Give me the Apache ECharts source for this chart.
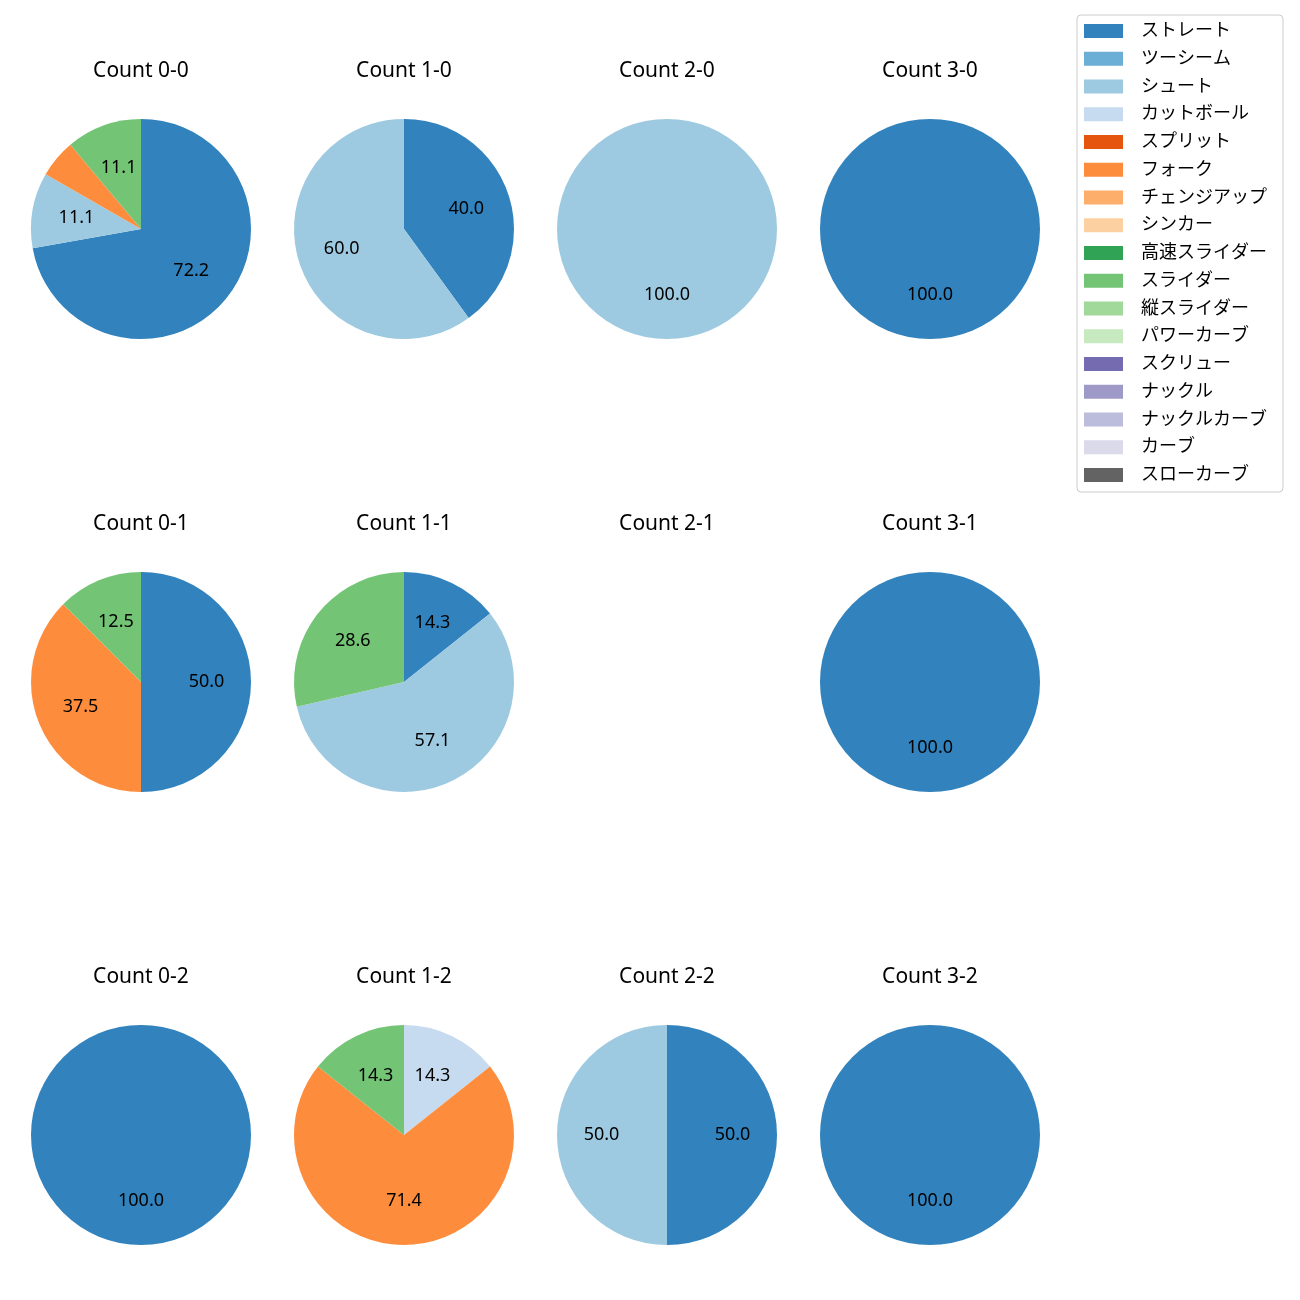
<!DOCTYPE html>
<html>
<head>
<meta charset="utf-8">
<script src="https://cdn.jsdelivr.net/npm/echarts@6/dist/echarts.min.js"></script>
<style>html,body{margin:0;padding:0;background:#fff}#c{width:1300px;height:1300px}</style>
</head>
<body>
<div id="c"></div>
<script>
const categories = ['ストレート','ツーシーム','シュート','カットボール','スプリット','フォーク','チェンジアップ','シンカー','高速スライダー','スライダー','縦スライダー','パワーカーブ','スクリュー','ナックル','ナックルカーブ','カーブ','スローカーブ'];
const colors = ['#3182bd','#6baed6','#9ecae1','#c6dbef','#e6550d','#fd8d3c','#fdae6b','#fdd0a2','#31a354','#74c476','#a1d99b','#c7e9c0','#756bb1','#9e9ac8','#bcbddc','#dadaeb','#636363'];

const count_0_0 = [['ストレート',72.2],['シュート',11.1],['フォーク',5.6],['スライダー',11.1]];
const count_1_0 = [['ストレート',40.0],['シュート',60.0]];
const count_2_0 = [['シュート',100.0]];
const count_3_0 = [['ストレート',100.0]];
const count_0_1 = [['ストレート',50.0],['フォーク',37.5],['スライダー',12.5]];
const count_1_1 = [['ストレート',14.3],['シュート',57.1],['スライダー',28.6]];
const count_2_1 = [];
const count_3_1 = [['ストレート',100.0]];
const count_0_2 = [['ストレート',100.0]];
const count_1_2 = [['カットボール',14.3],['フォーク',71.4],['スライダー',14.3]];
const count_2_2 = [['ストレート',50.0],['シュート',50.0]];
const count_3_2 = [['ストレート',100.0]];

const pies = [
  ['Count 0-0', count_0_0, 0, 0], ['Count 1-0', count_1_0, 1, 0], ['Count 2-0', count_2_0, 2, 0], ['Count 3-0', count_3_0, 3, 0],
  ['Count 0-1', count_0_1, 0, 1], ['Count 1-1', count_1_1, 1, 1], ['Count 2-1', count_2_1, 2, 1], ['Count 3-1', count_3_1, 3, 1],
  ['Count 0-2', count_0_2, 0, 2], ['Count 1-2', count_1_2, 1, 2], ['Count 2-2', count_2_2, 2, 2], ['Count 3-2', count_3_2, 3, 2]
];

const colX = [141, 404, 667, 930];
const rowY = [229, 682, 1135];
const R = 110;
const FONT = '"Noto Sans", "Noto Sans CJK JP", sans-serif';
const colorOf = n => colors[categories.indexOf(n)];

const series = [];
// legend provider series (invisible)
series.push({
  type: 'pie', radius: 0, center: [-100, -100], silent: true, showEmptyCircle: false,
  label: {show: false}, labelLine: {show: false},
  data: categories.map((n, i) => ({name: n, value: 0, itemStyle: {color: colors[i]}}))
});
const titles = [];
pies.forEach(([title, data, c, r]) => {
  titles.push({
    text: title, left: colX[c], top: rowY[r] - 168, textAlign: 'center', padding: 0,
    textStyle: {fontFamily: FONT, fontSize: 21, fontWeight: 'normal', color: '#000'}
  });
  if (!data.length) return;
  const d = data.map(([n, v]) => ({name: n, value: v, itemStyle: {color: colorOf(n)}}));
  series.push({
    type: 'pie', center: [colX[c], rowY[r]], radius: R, startAngle: 90, clockwise: true,
    label: {show: false}, labelLine: {show: false}, emphasis: {disabled: true},
    itemStyle: {borderWidth: 0}, data: d
  });
  series.push({
    type: 'pie', center: [colX[c], rowY[r]], radius: [15, R], startAngle: 90, clockwise: true,
    silent: true, legendHoverLink: false, emphasis: {disabled: true},
    itemStyle: {color: 'rgba(0,0,0,0)', borderWidth: 0},
    label: {show: true, position: 'inside', color: '#000', fontFamily: FONT, fontSize: 18,
      formatter: p => p.value >= 10 ? p.value.toFixed(1) : ''},
    labelLine: {show: false},
    data: data.map(([n, v]) => ({name: n, value: v}))
  });
});

const chart = echarts.init(document.getElementById('c'));
chart.setOption({
  animation: false,
  title: titles,
  legend: {
    orient: 'vertical', left: 1077, top: 15, data: categories,
    itemWidth: 39, itemHeight: 14, itemGap: 9.75, icon: 'rect',
    padding: [7, 16, 8, 7],
    borderColor: '#cccccc', borderWidth: 1, borderRadius: 4, backgroundColor: '#fff',
    textStyle: {fontFamily: FONT, fontSize: 18, lineHeight: 18, color: '#000', padding: [0, 0, 0, 13]}
  },
  series: series
});
</script>
</body>
</html>
